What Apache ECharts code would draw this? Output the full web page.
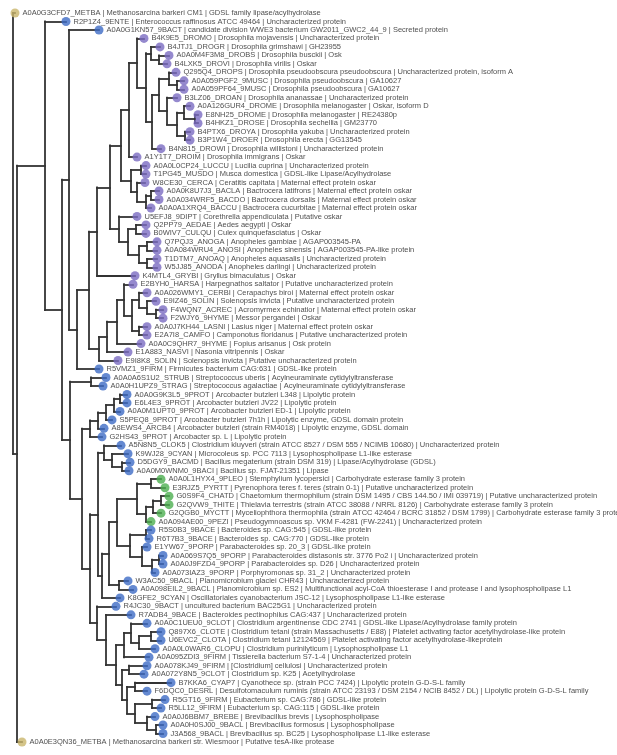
<!DOCTYPE html>
<html>
<head>
<meta charset="utf-8">
<title>GDSL / Oskar tree</title>
<script src="https://cdn.jsdelivr.net/npm/echarts@6.0.0/dist/echarts.min.js"></script>
<style>
  html, body { margin: 0; padding: 0; background: #fff; }
  #tree_chart { width: 617px; height: 755px; }
</style>
</head>
<body>
<div id="tree_chart"></div>
<script>
// topology, bootstrap support (inner node names) and branch lengths
var treeNewick = [
    '(A0A0G3CFD7_METBA:0.02,',
    '((R2P1Z4_9ENTE:0.21,',
    '((A0A0G1KN57_9BACT:0.30,',
    '(((((',
    '((B4K9E5_DROMO:0.07,',
    '((B4JTJ1_DROGR:0.09,(A0A0M4F3M8_DROBS:0.10,B4LXK5_DROVI:0.08)58:0.08)97:0.05,',
    '(((Q295Q4_DROPS:0.07,(A0A059PGF2_9MUSC:0.07,A0A059PF64_9MUSC:0.07)46:0.08)100:0.10,',
    '(B3LZ06_DROAN:0.10,((A0A126GUR4_DROME:0.06,(E8NH25_DROME:0.03,B4HKZ1_DROSE:0.03)66:0.11)88:0.07,(B4PTX6_DROYA:0.05,B3P1W4_DROER:0.05)42:0.08)97:0.10)97:0.08)73:0.07,',
    'B4N815_DROWI:0.09)45:0.06)11:0.09)29:0.08,',
    'A1Y1T7_DROIM:0.08)91:0.08,',
    '((A0A0L0CP24_LUCCU:0.05,T1PG45_MUSDO:0.05)58:0.10,(W8CE30_CERCA:0.08,((A0A0K8U7J3_BACLA:0.08,A0A034WRF5_BACDO:0.08)84:0.05,A0A0A1XRQ4_BACCU:0.05)91:0.09)97:0.06)94:0.10)98:0.11,',
    '(U5EFJ8_9DIPT:0.18,((Q2PP79_AEDAE:0.10,B0WIV7_CULQU:0.10)91:0.08,((Q7PQJ3_ANOGA:0.10,A0A084WRU4_ANOSI:0.10)86:0.08,(T1DTM7_ANOAQ:0.10,W5JJ85_ANODA:0.10)99:0.08)100:0.11)74:0.09)99:0.09)93:0.13,',
    'K4MTL4_GRYBI:0.38)49:0.08,',
    '((((E2BYH0_HARSA:0.09,((A0A026WMY1_CERBI:0.08,(E9IZ46_SOLIN:0.09,(F4WQN7_ACREC:0.07,F2WJY6_9HYME:0.07)38:0.09)96:0.08)36:0.07,(A0A0J7KH44_LASNI:0.08,E2A7I8_CAMFO:0.08)30:0.07)47:0.08)54:0.07,',
    'A0A0C9QHR7_9HYME:0.24)79:0.10,E1A883_NASVI:0.21)44:0.08,E9I8K8_SOLIN:0.19)44:0.10)76:0.12,',
    'R5VMZ1_9FIRM:0.22)25:0.08)78:0.07,',
    '((A0A0A6S1U2_STRUB:0.15,A0A0H1UPZ9_STRAG:0.12)98:0.21,',
    '((((((A0A0G9K3L5_9PROT:0.07,E6L4E3_9PROT:0.07)100:0.06,A0A0M1UPT0_9PROT:0.06)55:0.08,S5PEQ8_9PROT:0.06)56:0.08,A8EWS4_ARCB4:0.06)89:0.08,G2HS43_9PROT:0.12)89:0.08,',
    '((',
    '(A5N8N5_CLOK5:0.17,(K9WJ28_9CYAN:0.16,(D5DGY9_BACMD:0.08,A0A0M0WNM0_9BACI:0.07)100:0.10)46:0.08)16:0.06,',
    '(((',
    '((A0A0L1HYX4_9PLEO:0.10,E3RJZ5_PYRTT:0.14)98:0.14,(((G0S9F4_CHATD:0.08,G2QVW9_THITE:0.08)84:0.08,G2QGB0_MYCTT:0.08)94:0.07,A0A094AE00_9PEZI:0.05)58:0.09)93:0.20,',
    '((R5S0B3_9BACE:0.05,R6T7B3_9BACE:0.03)99:0.16,(E1YW67_9PORP:0.05,((A0A069S7Q5_9PORP:0.04,A0A0J9FZD4_9PORP:0.04)81:0.07,A0A073IAZ3_9PORP:0.03)90:0.10)74:0.12)78:0.13)27:0.08,',
    '(W3AC50_9BACL:0.09,A0A098EIL2_9BACL:0.14)100:0.10)2:0.07,',
    'K8GFE2_9CYAN:0.18)1:0.04)1:0.08,',
    '(R4JC30_9BACT:0.19,(R7ADB4_9BACE:0.25,(',
    '((A0A0C1UEU0_9CLOT:0.16,((Q897X6_CLOTE:0.10,U6EVC2_CLOTA:0.10)100:0.12,A0A0L0WAR6_CLOPU:0.16)37:0.08)54:0.07,A0A095ZDI3_9FIRM:0.25)34:0.08,',
    '((A0A078KJ49_9FIRM:0.18,A0A072Y8N5_9CLOT:0.15)14:0.07,((B7KKA6_CYAP7:0.36,F6DQC0_DESRL:0.12)33:0.08,((R5GT16_9FIRM:0.13,R5LL12_9FIRM:0.09)98:0.17,(A0A0J6BBM7_BREBE:0.08,(A0A0H0SJ00_9BACL:0.07,J3A568_9BACL:0.07)94:0.09)99:0.12)12:0.08)1:0.05)2:0.06)23:0.10)57:0.09)30:0.07)21:0.08)37:0.12)25:0.08)45:0.17)100:0.28,',
    'A0A0E3QN36_METBA:0.05)1:0.04)1;'
].join('');

// leaf texts, top to bottom
var leafLabels = [
    'A0A0G3CFD7_METBA | Methanosarcina barkeri CM1 | GDSL family lipase/acylhydrolase',
    'R2P1Z4_9ENTE | Enterococcus raffinosus ATCC 49464 | Uncharacterized protein',
    'A0A0G1KN57_9BACT | candidate division WWE3 bacterium GW2011_GWC2_44_9 | Secreted protein',
    'B4K9E5_DROMO | Drosophila mojavensis | Uncharacterized protein',
    'B4JTJ1_DROGR | Drosophila grimshawi | GH23955',
    'A0A0M4F3M8_DROBS | Drosophila busckii | Osk',
    'B4LXK5_DROVI | Drosophila virilis | Oskar',
    'Q295Q4_DROPS | Drosophila pseudoobscura pseudoobscura | Uncharacterized protein, isoform A',
    'A0A059PGF2_9MUSC | Drosophila pseudoobscura | GA10627',
    'A0A059PF64_9MUSC | Drosophila pseudoobscura | GA10627',
    'B3LZ06_DROAN | Drosophila ananassae | Uncharacterized protein',
    'A0A126GUR4_DROME | Drosophila melanogaster | Oskar, isoform D',
    'E8NH25_DROME | Drosophila melanogaster | RE24380p',
    'B4HKZ1_DROSE | Drosophila sechellia | GM23770',
    'B4PTX6_DROYA | Drosophila yakuba | Uncharacterized protein',
    'B3P1W4_DROER | Drosophila erecta | GG13545',
    'B4N815_DROWI | Drosophila willistoni | Uncharacterized protein',
    'A1Y1T7_DROIM | Drosophila immigrans | Oskar',
    'A0A0L0CP24_LUCCU | Lucilia cuprina | Uncharacterized protein',
    'T1PG45_MUSDO | Musca domestica | GDSL-like Lipase/Acylhydrolase',
    'W8CE30_CERCA | Ceratitis capitata | Maternal effect protein oskar',
    'A0A0K8U7J3_BACLA | Bactrocera latifrons | Maternal effect protein oskar',
    'A0A034WRF5_BACDO | Bactrocera dorsalis | Maternal effect protein oskar',
    'A0A0A1XRQ4_BACCU | Bactrocera cucurbitae | Maternal effect protein oskar',
    'U5EFJ8_9DIPT | Corethrella appendiculata | Putative oskar',
    'Q2PP79_AEDAE | Aedes aegypti | Oskar',
    'B0WIV7_CULQU | Culex quinquefasciatus | Oskar',
    'Q7PQJ3_ANOGA | Anopheles gambiae | AGAP003545-PA',
    'A0A084WRU4_ANOSI | Anopheles sinensis | AGAP003545-PA-like protein',
    'T1DTM7_ANOAQ | Anopheles aquasalis | Uncharacterized protein',
    'W5JJ85_ANODA | Anopheles darlingi | Uncharacterized protein',
    'K4MTL4_GRYBI | Gryllus bimaculatus | Oskar',
    'E2BYH0_HARSA | Harpegnathos saltator | Putative uncharacterized protein',
    'A0A026WMY1_CERBI | Cerapachys biroi | Maternal effect protein oskar',
    'E9IZ46_SOLIN | Solenopsis invicta | Putative uncharacterized protein',
    'F4WQN7_ACREC | Acromyrmex echinatior | Maternal effect protein oskar',
    'F2WJY6_9HYME | Messor pergandei | Oskar',
    'A0A0J7KH44_LASNI | Lasius niger | Maternal effect protein oskar',
    'E2A7I8_CAMFO | Camponotus floridanus | Putative uncharacterized protein',
    'A0A0C9QHR7_9HYME | Fopius arisanus | Osk protein',
    'E1A883_NASVI | Nasonia vitripennis | Oskar',
    'E9I8K8_SOLIN | Solenopsis invicta | Putative uncharacterized protein',
    'R5VMZ1_9FIRM | Firmicutes bacterium CAG:631 | GDSL-like protein',
    'A0A0A6S1U2_STRUB | Streptococcus uberis | Acylneuraminate cytidylyltransferase',
    'A0A0H1UPZ9_STRAG | Streptococcus agalactiae | Acylneuraminate cytidylyltransferase',
    'A0A0G9K3L5_9PROT | Arcobacter butzleri L348 | Lipolytic protein',
    'E6L4E3_9PROT | Arcobacter butzleri JV22 | Lipolytic protein',
    'A0A0M1UPT0_9PROT | Arcobacter butzleri ED-1 | Lipolytic protein',
    'S5PEQ8_9PROT | Arcobacter butzleri 7h1h | Lipolytic enzyme, GDSL domain protein',
    'A8EWS4_ARCB4 | Arcobacter butzleri (strain RM4018) | Lipolytic enzyme, GDSL domain',
    'G2HS43_9PROT | Arcobacter sp. L | Lipolytic protein',
    'A5N8N5_CLOK5 | Clostridium kluyveri (strain ATCC 8527 / DSM 555 / NCIMB 10680) | Uncharacterized protein',
    'K9WJ28_9CYAN | Microcoleus sp. PCC 7113 | Lysophospholipase L1-like esterase',
    'D5DGY9_BACMD | Bacillus megaterium (strain DSM 319) | Lipase/Acylhydrolase (GDSL)',
    'A0A0M0WNM0_9BACI | Bacillus sp. FJAT-21351 | Lipase',
    'A0A0L1HYX4_9PLEO | Stemphylium lycopersici | Carbohydrate esterase family 3 protein',
    'E3RJZ5_PYRTT | Pyrenophora teres f. teres (strain 0-1) | Putative uncharacterized protein',
    'G0S9F4_CHATD | Chaetomium thermophilum (strain DSM 1495 / CBS 144.50 / IMI 039719) | Putative uncharacterized protein',
    'G2QVW9_THITE | Thielavia terrestris (strain ATCC 38088 / NRRL 8126) | Carbohydrate esterase family 3 protein',
    'G2QGB0_MYCTT | Myceliophthora thermophila (strain ATCC 42464 / BCRC 31852 / DSM 1799) | Carbohydrate esterase family 3 protein',
    'A0A094AE00_9PEZI | Pseudogymnoascus sp. VKM F-4281 (FW-2241) | Uncharacterized protein',
    'R5S0B3_9BACE | Bacteroides sp. CAG:545 | GDSL-like protein',
    'R6T7B3_9BACE | Bacteroides sp. CAG:770 | GDSL-like protein',
    'E1YW67_9PORP | Parabacteroides sp. 20_3 | GDSL-like protein',
    'A0A069S7Q5_9PORP | Parabacteroides distasonis str. 3776 Po2 i | Uncharacterized protein',
    'A0A0J9FZD4_9PORP | Parabacteroides sp. D26 | Uncharacterized protein',
    'A0A073IAZ3_9PORP | Porphyromonas sp. 31_2 | Uncharacterized protein',
    'W3AC50_9BACL | Planomicrobium glaciei CHR43 | Uncharacterized protein',
    'A0A098EIL2_9BACL | Planomicrobium sp. ES2 | Multifunctional acyl-CoA thioesterase I and protease I and lysophospholipase L1',
    'K8GFE2_9CYAN | Oscillatoriales cyanobacterium JSC-12 | Lysophospholipase L1-like esterase',
    'R4JC30_9BACT | uncultured bacterium BAC25G1 | Uncharacterized protein',
    'R7ADB4_9BACE | Bacteroides pectinophilus CAG:437 | Uncharacterized protein',
    'A0A0C1UEU0_9CLOT | Clostridium argentinense CDC 2741 | GDSL-like Lipase/Acylhydrolase family protein',
    'Q897X6_CLOTE | Clostridium tetani (strain Massachusetts / E88) | Platelet activating factor acetylhydrolase-like protein',
    'U6EVC2_CLOTA | Clostridium tetani 12124569 | Platelet activating factor acetylhydrolase-likeprotein',
    'A0A0L0WAR6_CLOPU | Clostridium purinilyticum | Lysophospholipase L1',
    'A0A095ZDI3_9FIRM | Tissierella bacterium S7-1-4 | Uncharacterized protein',
    'A0A078KJ49_9FIRM | [Clostridium] cellulosi | Uncharacterized protein',
    'A0A072Y8N5_9CLOT | Clostridium sp. K25 | Acetylhydrolase',
    'B7KKA6_CYAP7 | Cyanothece sp. (strain PCC 7424) | Lipolytic protein G-D-S-L family',
    'F6DQC0_DESRL | Desulfotomaculum ruminis (strain ATCC 23193 / DSM 2154 / NCIB 8452 / DL) | Lipolytic protein G-D-S-L family',
    'R5GT16_9FIRM | Eubacterium sp. CAG:786 | GDSL-like protein',
    'R5LL12_9FIRM | Eubacterium sp. CAG:115 | GDSL-like protein',
    'A0A0J6BBM7_BREBE | Brevibacillus brevis | Lysophospholipase',
    'A0A0H0SJ00_9BACL | Brevibacillus formosus | Lysophospholipase',
    'J3A568_9BACL | Brevibacillus sp. BC25 | Lysophospholipase L1-like esterase',
    'A0A0E3QN36_METBA | Methanosarcina barkeri str. Wiesmoor | Putative tesA-like protease'
];

// A = archaea, B = bacteria, I = insects, F = fungi (same order as leafLabels)
var leafGroups = ('ABBIIIIIII IIIIIIIIII IIIIIIIIII IIIIIIIIII IIBBBBBBBB ' +
                  'BBBBBFFFFF FBBBBBBBBB BBBBBBBBBB BBBBBBA').replace(/ /g, '');

var groupColors = { A: '#c9b56c', B: '#3d6bc6', I: '#7b6cc2', F: '#4caf50' };

function parseNewick(s) {
    var pos = 0;
    function readNode() {
        var n = { children: [], name: '', len: 0 };
        if (s[pos] === '(') {
            pos++;
            n.children.push(readNode());
            while (s[pos] === ',') {
                pos++;
                n.children.push(readNode());
            }
            pos++; // ')'
        }
        var m = /^[^:,();]*/.exec(s.slice(pos));
        n.name = m[0];
        pos += m[0].length;
        if (s[pos] === ':') {
            pos++;
            var m2 = /^[0-9.eE+-]+/.exec(s.slice(pos));
            n.len = parseFloat(m2[0]);
            pos += m2[0].length;
        }
        return n;
    }
    return readNode();
}

var labelById = {};
leafLabels.forEach(function (txt, i) {
    labelById[txt.split(' | ')[0]] = { text: txt, group: leafGroups[i] };
});

var root = parseNewick(treeNewick);
root.len = 0;

var leafPoints = [];
var supportPoints = [];
var branches = [];
var row = 0;

// phylogram layout: x = distance from root, y = leaf row (inner node = middle of first/last child)
function place(n, parentX) {
    n.x = parentX + n.len;
    if (!n.children.length) {
        n.y = row++;
        var info = labelById[n.name] || { text: n.name, group: 'B' };
        leafPoints.push({
            value: [n.x, n.y],
            name: info.text,
            itemStyle: { color: groupColors[info.group] }
        });
        return;
    }
    n.children.forEach(function (c) { place(c, n.x); });
    var first = n.children[0];
    var last = n.children[n.children.length - 1];
    n.y = (first.y + last.y) / 2;
    branches.push({ coords: [[n.x, first.y], [n.x, last.y]] });
    n.children.forEach(function (c) {
        branches.push({ coords: [[n.x, c.y], [c.x, c.y]] });
    });
    supportPoints.push({ value: [n.x, n.y], name: n.name });
}
place(root, 0);

var dom = document.getElementById('tree_chart');
var myChart = echarts.init(dom, null, { renderer: 'canvas' });

var option = {
    animation: false,
    backgroundColor: '#fff',
    grid: { left: 13, right: 0, top: 13, bottom: 13 },
    xAxis: { type: 'value', min: 0, max: 6.04, show: false },
    yAxis: { type: 'value', min: 0, max: row - 1, inverse: true, show: false },
    series: [
        {
            name: 'branches',
            type: 'lines',
            coordinateSystem: 'cartesian2d',
            silent: true,
            clip: false,
            z: 1,
            lineStyle: { color: '#333', width: 1.8, opacity: 1, cap: 'square' },
            data: branches
        },
        {
            name: 'support',
            type: 'scatter',
            silent: true,
            clip: false,
            z: 3,
            symbolSize: 0.1,
            itemStyle: { opacity: 0 },
            label: {
                show: true,
                position: 'left',
                distance: 0,
                offset: [0, 2],
                formatter: '{b}',
                color: '#c0392b',
                fontSize: 5.5,
                fontFamily: 'Liberation Sans, Arial, sans-serif'
            },
            data: supportPoints
        },
        {
            name: 'leaves',
            type: 'scatter',
            silent: true,
            clip: false,
            z: 4,
            symbolSize: 9,
            label: {
                show: true,
                position: 'right',
                distance: 3,
                formatter: '{b}',
                color: '#222',
                fontSize: 7.5,
                fontFamily: 'Liberation Sans, Arial, sans-serif'
            },
            data: leafPoints
        }
    ]
};

if (option && typeof option === 'object') {
    myChart.setOption(option);
}

window.addEventListener('resize', myChart.resize);
</script>
</body>
</html>
